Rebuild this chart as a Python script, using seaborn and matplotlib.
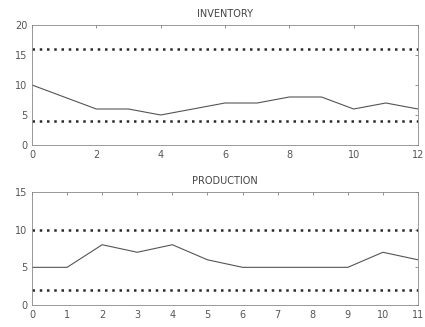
import matplotlib
matplotlib.use("Agg")
import matplotlib.pyplot as plt
import seaborn as sns
import pandas as pd

# Inventory levels per period with control limits
inv_periods = list(range(0, 13))
inventory = [10, 8, 6, 6, 5, 6, 7, 7, 8, 8, 6, 7, 6]
inv_limits = [16, 4]

# Production levels per period with control limits
prod_periods = list(range(0, 12))
production = [5, 5, 8, 7, 8, 6, 5, 5, 5, 5, 7, 6]
prod_limits = [10, 2]

sns.set_style("white")
plt.rcParams["font.family"] = ["DejaVu Sans"]

fig = plt.figure(figsize=(4.25, 3.27), dpi=100)
ax1 = fig.add_axes([32 / 425, 1 - 145 / 327, 386 / 425, 120 / 327])
ax2 = fig.add_axes([32 / 425, 1 - 305 / 327, 386 / 425, 113 / 327])

line_col = "#555555"
lim_col = "#2a2a2a"


def draw(ax, x, y, limits, title, xmax, ymax, xstep, ystep):
    df = pd.DataFrame({"period": x, "value": y})
    sns.lineplot(data=df, x="period", y="value", ax=ax, color=line_col, linewidth=0.8)
    for lv in limits:
        ax.axhline(lv, color=lim_col, linewidth=1.8, linestyle=(0, (1, 1.9)))
    ax.set_xlim(0, xmax)
    ax.set_ylim(0, ymax)
    ax.set_xticks(range(0, xmax + 1, xstep))
    ax.set_yticks(range(0, ymax + 1, ystep))
    ax.set_xlabel("")
    ax.set_ylabel("")
    ax.set_title(title, fontsize=7, color="#444444", pad=6)
    ax.tick_params(direction="in", length=2.5, width=0.5, top=True, right=True,
                   labelsize=7, labelcolor="#555555", color="#666666", pad=3.5)
    for s in ax.spines.values():
        s.set_color("#888888")
        s.set_linewidth(0.6)


draw(ax1, inv_periods, inventory, inv_limits, "INVENTORY", 12, 20, 2, 5)
draw(ax2, prod_periods, production, prod_limits, "PRODUCTION", 11, 15, 1, 5)

fig.savefig("out.png", dpi=100)
